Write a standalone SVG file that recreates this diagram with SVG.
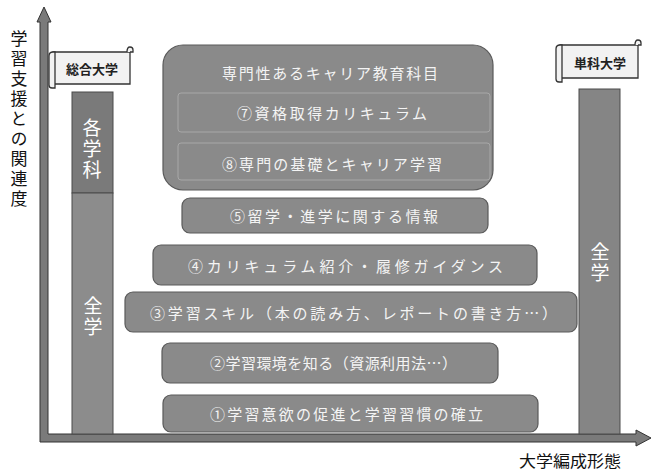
<svg xmlns="http://www.w3.org/2000/svg" width="654" height="471" viewBox="0 0 654 471">
<style>
.box{fill:#8a8a8a;stroke:#5a5a5a;stroke-width:1.2}
.bt{font-family:"Noto Sans CJK JP","Noto Sans CJK SC",sans-serif;font-size:15px;fill:#f4f4f4;text-anchor:start;dominant-baseline:central}
.col{fill:#858585;stroke:#4a4a4a;stroke-width:1}
.ct{font-family:"Noto Sans CJK JP",sans-serif;font-size:19px;fill:#ffffff;text-anchor:middle;writing-mode:vertical-rl;letter-spacing:2px}
.lab{font-family:"Noto Sans CJK JP",sans-serif;fill:#111;text-anchor:middle;dominant-baseline:central}
.vl{font-family:"Noto Sans CJK JP",sans-serif;fill:#111;font-size:17px;text-anchor:middle;writing-mode:vertical-rl;letter-spacing:3px}
.ban{fill:#f2f2f2;stroke:#333;stroke-width:1.3}
.bant{font-family:"Noto Sans CJK JP",sans-serif;font-size:13px;font-weight:bold;fill:#222;text-anchor:middle;dominant-baseline:central}
.ax{fill:#7a7a7a;stroke:#333;stroke-width:1}
.inner{fill:none;stroke:#a8a8a8;stroke-width:1}
</style>
<rect width="654" height="471" fill="#ffffff"/>
<g id="connectors">
  <path class="ax" d="M40,442 L40,22 L37,22 L44,7 L51,22 L48,22 L48,434 L636,434 L636,430 L651,438 L636,446 L636,442 Z"/>
</g>
<g id="yaxis-label">
  <text class="vl" x="19" y="120">学習支援との関連度</text>
</g>
<g id="xaxis-label">
  <text class="lab" font-size="16" x="570" y="460" textLength="102" lengthAdjust="spacingAndGlyphs">大学編成形態</text>
</g>
<g id="banner-sogo">
  <path class="ban" d="M53,52 L130,52 L130,84 L53,84 Z"/>
  <path class="ban" d="M49,56 Q49,52 53,52 L55,52 L55,88 L52,88 Q49,88 49,85 Z"/>
  <path class="ban" d="M127,52 Q127,47 130,47 Q133,47 133,50 L133,52 L130,52"/>
  <text class="bant" x="92" y="68">総合大学</text>
</g>
<g id="banner-tanka">
  <path class="ban" d="M560,45 L638,45 L638,78 L560,78 Z"/>
  <path class="ban" d="M556,49 Q556,45 560,45 L562,45 L562,82 L559,82 Q556,82 556,79 Z"/>
  <path class="ban" d="M635,45 Q635,40 638,40 Q641,40 641,43 L641,45 L638,45"/>
  <text class="bant" x="600" y="62">単科大学</text>
</g>
<g id="col-sogo">
  <rect x="72" y="92" width="41" height="101" fill="#7a7a7a" stroke="#4a4a4a"/>
  <rect x="72" y="193" width="41" height="241" fill="#8c8c8c" stroke="#4a4a4a"/>
  <text class="ct" x="92" y="150">各学科</text>
  <text class="ct" x="93" y="317">全学</text>
</g>
<g id="col-tanka">
  <rect class="col" x="579" y="89" width="41" height="345"/>
  <text class="ct" x="600" y="263">全学</text>
</g>
<g id="career">
  <rect class="box" x="163" y="45" width="330" height="145" rx="20"/>
  <rect class="inner" x="178" y="93" width="312" height="39" rx="3"/>
  <rect class="inner" x="178" y="143" width="312" height="37" rx="3"/>
  <text class="bt" x="222" y="72" textLength="216" lengthAdjust="spacing">専門性あるキャリア教育科目</text>
  <text class="bt" x="237" y="112" textLength="190" lengthAdjust="spacing">⑦資格取得カリキュラム</text>
  <text class="bt" x="222" y="163" textLength="220" lengthAdjust="spacing">⑧専門の基礎とキャリア学習</text>
</g>
<g id="n5">
  <rect class="box" x="182" y="198" width="306" height="35" rx="8"/>
  <text class="bt" x="230" y="215" textLength="208" lengthAdjust="spacing">⑤留学・進学に関する情報</text>
</g>
<g id="n4">
  <rect class="box" x="153" y="245" width="384" height="40" rx="8"/>
  <text class="bt" x="188" y="265" textLength="315" lengthAdjust="spacing">④カリキュラム紹介・履修ガイダンス</text>
</g>
<g id="n3">
  <rect class="box" x="125" y="292" width="452" height="40" rx="8"/>
  <text class="bt" x="150" y="312" textLength="407" lengthAdjust="spacing">③学習スキル（本の読み方、レポートの書き方…）</text>
</g>
<g id="n2">
  <rect class="box" x="162" y="343" width="336" height="40" rx="8"/>
  <text class="bt" x="210" y="362" textLength="247" lengthAdjust="spacing">②学習環境を知る（資源利用法…）</text>
</g>
<g id="n1">
  <rect class="box" x="163" y="395" width="375" height="37" rx="8"/>
  <text class="bt" x="210" y="413" textLength="273" lengthAdjust="spacing">①学習意欲の促進と学習習慣の確立</text>
</g>
</svg>
